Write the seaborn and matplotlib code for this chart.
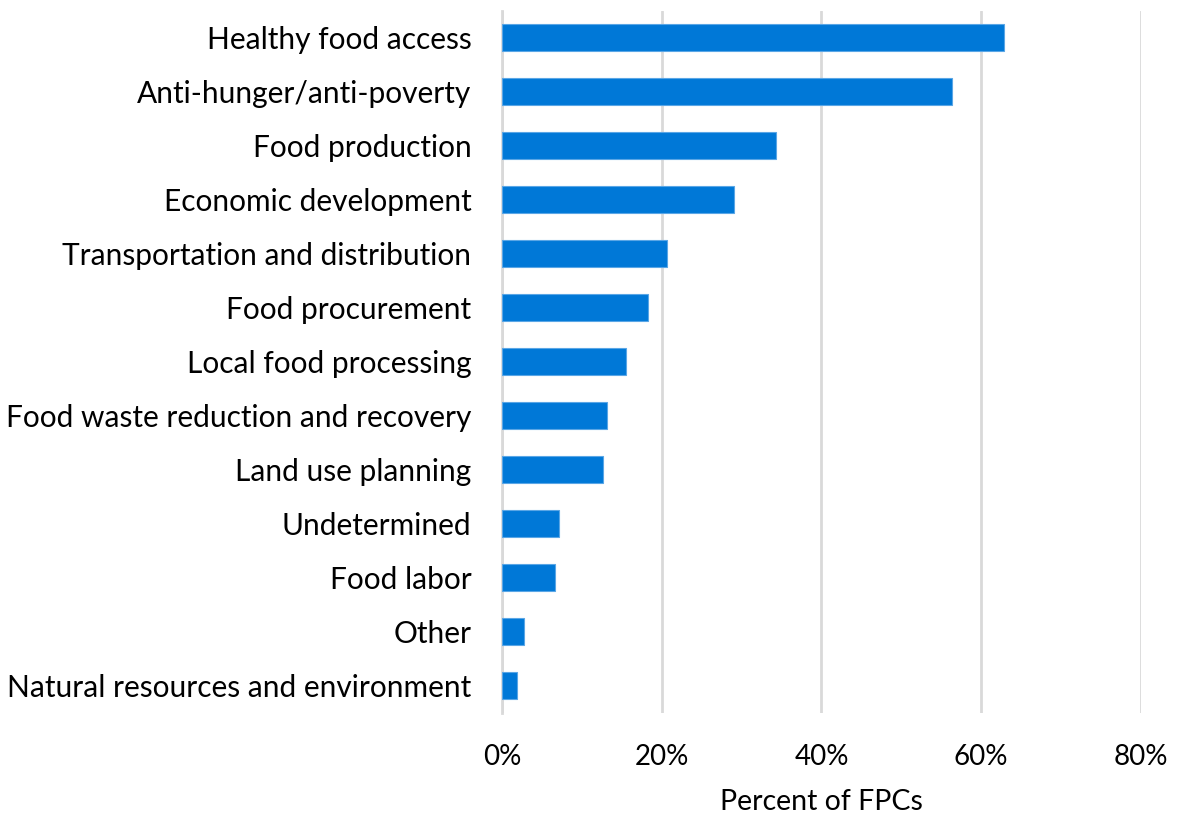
import matplotlib
matplotlib.use("Agg")
import matplotlib.pyplot as plt
import seaborn as sns
import pandas as pd
from matplotlib.ticker import FuncFormatter

categories = [
    "Healthy food access",
    "Anti-hunger/anti-poverty",
    "Food production",
    "Economic development",
    "Transportation and distribution",
    "Food procurement",
    "Local food processing",
    "Food waste reduction and recovery",
    "Land use planning",
    "Undetermined",
    "Food labor",
    "Other",
    "Natural resources and environment",
]
percent = [62.9, 56.3, 34.3, 29.1, 20.6, 18.3, 15.5, 13.2, 12.7, 7.1, 6.6, 2.8, 1.9]
x_ticks = [0, 20, 40, 60, 80]

sns.set_theme(style="white")
plt.rcParams["font.family"] = ["Lato", "DejaVu Sans"]

df = pd.DataFrame({"category": categories, "percent": percent})

fig = plt.figure(figsize=(11.78, 8.15), dpi=100)
ax = fig.add_axes([0.4261, 0.1252, 0.9686 - 0.4261, 0.9871 - 0.1252])

sns.barplot(data=df, x="percent", y="category", order=categories, orient="h",
            color="#0078D7", saturation=1, width=0.5, ax=ax,
            edgecolor="#5aa6e6", linewidth=0.8, zorder=3)

ax.set_xlim(0, 80)
ax.set_xticks(x_ticks)
ax.xaxis.set_major_formatter(FuncFormatter(lambda v, _: f"{v:.0f}%"))
ax.grid(axis="x", color="#d9d9d9", linewidth=2, zorder=0)
ax.set_axisbelow(True)
for side in ["top", "right", "bottom"]:
    ax.spines[side].set_visible(False)
ax.spines["left"].set_color("#d9d9d9")
ax.spines["left"].set_linewidth(2)

ax.tick_params(axis="y", length=0, pad=22, labelsize=21.5, labelcolor="black")
ax.tick_params(axis="x", length=0, pad=22, labelsize=20, labelcolor="black")
ax.set_ylabel("")
ax.set_xlabel("Percent of FPCs", fontsize=20.5, color="black", labelpad=14)

fig.savefig("out.png", dpi=100)
